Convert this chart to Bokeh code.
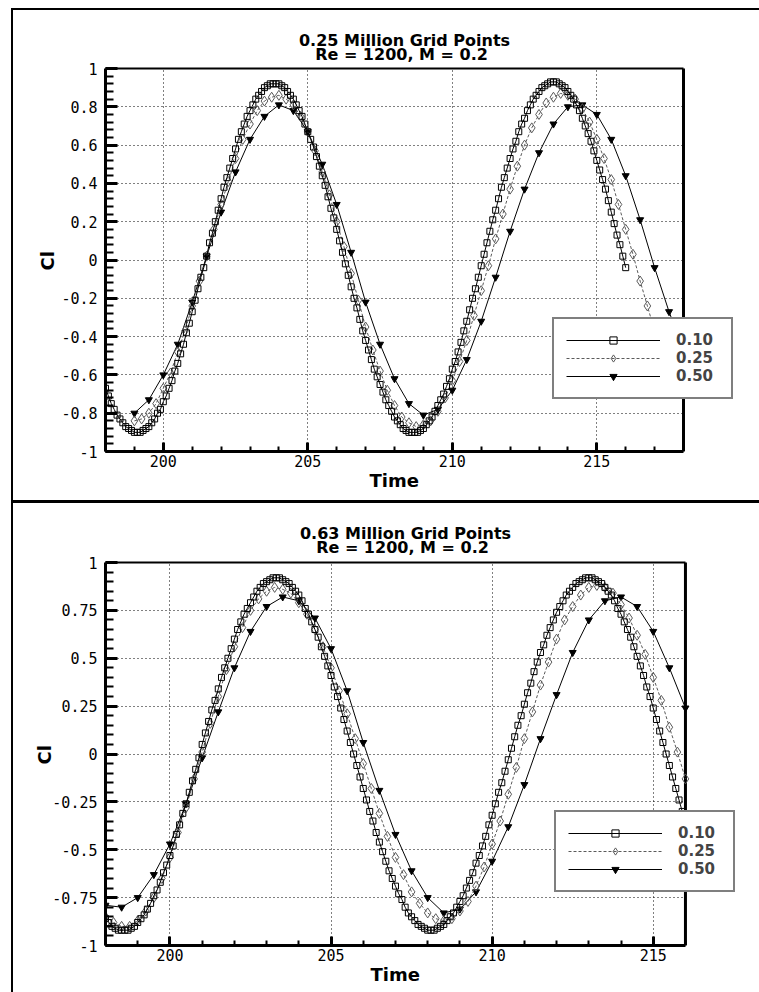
from bokeh.plotting import figure
from bokeh.models import (Range1d, FixedTicker, Label, Legend, LegendItem,
                          BoxAnnotation, Title)
from bokeh.layouts import column
from bokeh.embed import file_html
from bokeh.resources import INLINE

# ---------------- data ----------------
series_labels = ["0.10", "0.25", "0.50"]
titles_top = ["0.25 Million Grid Points", "Re = 1200, M = 0.2"]
titles_bottom = ["0.63 Million Grid Points", "Re = 1200, M = 0.2"]
x_title = "Time"
y_title = "Cl"

x_ticks = [200, 205, 210, 215]
y_ticks_top = [-1, -0.8, -0.6, -0.4, -0.2, 0, 0.2, 0.4, 0.6, 0.8, 1]
y_labels_top = ["-1", "-0.8", "-0.6", "-0.4", "-0.2", "0", "0.2", "0.4", "0.6", "0.8", "1"]
y_ticks_bottom = [-1, -0.75, -0.5, -0.25, 0, 0.25, 0.5, 0.75, 1]
y_labels_bottom = ["-1", "-0.75", "-0.5", "-0.25", "0", "0.25", "0.5", "0.75", "1"]

# sampling: first time and time step of each series (dt = 0.10, 0.25, 0.50)
top_start = [198.0, 199.0, 199.0]
bottom_start = [198.0, 198.0, 198.0]
steps = [0.1, 0.25, 0.5]

# 0.25 million grid points
top_010 = [
    -0.67, -0.71, -0.75, -0.78, -0.81, -0.83, -0.85, -0.87, -0.88, -0.89, -0.90, -0.90,
    -0.90, -0.89, -0.88, -0.87, -0.85, -0.83, -0.80, -0.78, -0.74, -0.71,
    -0.67, -0.63, -0.58, -0.54, -0.49, -0.44, -0.38, -0.33, -0.27, -0.21,
    -0.15, -0.09, -0.04, 0.02, 0.09, 0.14, 0.20, 0.26, 0.32, 0.38,
    0.43, 0.48, 0.53, 0.58, 0.63, 0.67, 0.71, 0.75, 0.78, 0.81,
    0.84, 0.86, 0.88, 0.90, 0.91, 0.92, 0.92,
    0.92, 0.92, 0.91, 0.90, 0.88, 0.86, 0.84, 0.81, 0.78, 0.75,
    0.71, 0.67, 0.63, 0.59, 0.54, 0.49, 0.44, 0.39, 0.33, 0.27,
    0.22, 0.16, 0.10, 0.04, -0.02, -0.08, -0.14, -0.20, -0.25, -0.31,
    -0.37, -0.42, -0.47, -0.52, -0.57, -0.61, -0.65, -0.69, -0.73, -0.76,
    -0.79, -0.82, -0.84, -0.86, -0.88, -0.89, -0.90, -0.90,
    -0.90, -0.90, -0.89, -0.88, -0.86, -0.84, -0.82, -0.79, -0.76, -0.73,
    -0.70, -0.66, -0.62, -0.57, -0.53, -0.48, -0.43, -0.37, -0.32, -0.26,
    -0.20, -0.15, -0.09, -0.03, 0.03, 0.09, 0.15, 0.21, 0.26, 0.32,
    0.38, 0.43, 0.48, 0.53, 0.58, 0.62, 0.67, 0.71, 0.74, 0.78,
    0.81, 0.84, 0.86, 0.88, 0.90, 0.91, 0.92, 0.93, 0.93,
    0.93, 0.92, 0.91, 0.90, 0.88, 0.86, 0.84, 0.81, 0.78, 0.74,
    0.70, 0.66, 0.62, 0.57, 0.52, 0.47, 0.42, 0.37, 0.31, 0.25,
    0.19, 0.13, 0.08, 0.02, -0.04,
]
top_025 = [
    -0.84, -0.83, -0.80, -0.75, -0.67, -0.59, -0.48, -0.37, -0.24, -0.11,
    0.02, 0.16, 0.29, 0.41, 0.53, 0.63, 0.71, 0.78, 0.83, 0.85,
    0.86, 0.84, 0.81, 0.75, 0.67, 0.57, 0.46, 0.34, 0.20, 0.07,
    -0.07, -0.21, -0.35, -0.47, -0.58, -0.68, -0.76, -0.82, -0.85, -0.87,
    -0.86, -0.84, -0.79, -0.72, -0.63, -0.53, -0.42, -0.29, -0.16, -0.03,
    0.11, 0.24, 0.37, 0.49, 0.60, 0.69, 0.76, 0.82, 0.85, 0.87,
    0.86, 0.84, 0.79, 0.72, 0.63, 0.53, 0.42, 0.29, 0.16, 0.03,
    -0.11, -0.24, -0.37, -0.49,
]
top_050 = [
    -0.80, -0.73, -0.60, -0.44, -0.22, 0.02, 0.25, 0.46, 0.63, 0.75,
    0.81, 0.78, 0.67, 0.50, 0.29, 0.04, -0.22, -0.44, -0.62, -0.75,
    -0.81, -0.78, -0.68, -0.52, -0.32, -0.09, 0.15, 0.37, 0.56, 0.71,
    0.80, 0.81, 0.76, 0.63, 0.44, 0.21, -0.04, -0.27, -0.47,
]

# 0.63 million grid points
bottom_010 = [
    -0.86, -0.88, -0.90, -0.91, -0.92, -0.92,
    -0.92, -0.92, -0.91, -0.90, -0.88, -0.86, -0.84, -0.81, -0.78, -0.74,
    -0.71, -0.67, -0.62, -0.58, -0.53, -0.48, -0.42, -0.37, -0.31, -0.26,
    -0.20, -0.14, -0.08, -0.02, 0.05, 0.11, 0.17, 0.23, 0.28, 0.34,
    0.40, 0.45, 0.50, 0.55, 0.60, 0.65, 0.69, 0.73, 0.76, 0.79,
    0.82, 0.85, 0.87, 0.89, 0.90, 0.91, 0.92, 0.92,
    0.92, 0.91, 0.90, 0.89, 0.87, 0.85, 0.83, 0.80, 0.76, 0.73,
    0.69, 0.65, 0.61, 0.56, 0.51, 0.46, 0.41, 0.35, 0.30, 0.24,
    0.18, 0.12, 0.06, 0.00, -0.06, -0.12, -0.18, -0.24, -0.30, -0.35,
    -0.41, -0.46, -0.51, -0.56, -0.61, -0.65, -0.69, -0.73, -0.76, -0.80,
    -0.83, -0.85, -0.87, -0.89, -0.90, -0.91, -0.92, -0.92,
    -0.92, -0.91, -0.90, -0.89, -0.87, -0.85, -0.83, -0.80, -0.77, -0.74,
    -0.70, -0.66, -0.62, -0.57, -0.53, -0.48, -0.43, -0.37, -0.32, -0.26,
    -0.20, -0.15, -0.09, -0.03, 0.03, 0.09, 0.15, 0.20, 0.26, 0.32,
    0.37, 0.43, 0.48, 0.53, 0.57, 0.62, 0.66, 0.70, 0.74, 0.77,
    0.80, 0.83, 0.85, 0.87, 0.89, 0.90, 0.91, 0.92, 0.92,
    0.92, 0.91, 0.90, 0.89, 0.87, 0.85, 0.83, 0.80, 0.76, 0.73,
    0.69, 0.65, 0.61, 0.56, 0.51, 0.46, 0.41, 0.35, 0.30, 0.24,
    0.18, 0.12, 0.06, 0.00, -0.06, -0.12, -0.18, -0.24, -0.30, -0.35,
]
bottom_025 = [
    -0.85, -0.88, -0.90,
    -0.90, -0.87, -0.82, -0.75, -0.65, -0.54, -0.41, -0.28, -0.13, 0.01,
    0.16, 0.30, 0.44, 0.56, 0.66, 0.75, 0.81, 0.85, 0.87,
    0.86, 0.84, 0.79, 0.73, 0.65, 0.56, 0.45, 0.33, 0.21, 0.08,
    -0.05, -0.18, -0.31, -0.43, -0.54, -0.63, -0.72, -0.78, -0.83, -0.86, -0.87,
    -0.86, -0.82, -0.77, -0.69, -0.59, -0.47, -0.35, -0.21, -0.07, 0.08,
    0.22, 0.36, 0.48, 0.60, 0.70, 0.77, 0.83, 0.87, 0.88,
    0.87, 0.84, 0.78, 0.71, 0.62, 0.52, 0.40, 0.28, 0.14, 0.01, -0.13,
]
bottom_050 = [
    -0.79, -0.80, -0.75, -0.63, -0.47, -0.26, -0.02, 0.22, 0.45, 0.64,
    0.77, 0.82, 0.80, 0.71, 0.55, 0.33, 0.06, -0.19, -0.42, -0.61,
    -0.75, -0.83, -0.81, -0.72, -0.56, -0.38, -0.16, 0.08, 0.31, 0.53,
    0.70, 0.80, 0.82, 0.77, 0.64, 0.45, 0.24,
]

# ---------------- styling ----------------
W = 759
TITLE_FONT = "DejaVu Sans"
TICK_FONT = "DejaVu Sans Mono"
marker_styles = [
    dict(marker="square", size=6, line_color="black", fill_alpha=0, line_width=1),
    dict(marker="diamond", size=10, line_color="#5a5a5a", fill_alpha=0, line_width=1),
    dict(marker="inverted_triangle", size=7, line_color="black", fill_color="black"),
]
line_styles = [
    dict(line_color="black", line_width=1),
    dict(line_color="#5a5a5a", line_width=1, line_dash="3 2"),
    dict(line_color="black", line_width=1),
]


def times(start, step, n):
    return [round(start + step * i, 3) for i in range(n)]


def frame_css(height, bottom_line):
    if bottom_line:
        imgs = ["linear-gradient(#000,#000)"] * 3
        sizes = [f"2px {height - 8}px", f"{W}px 2px", f"{W}px 3px"]
        pos = ["11px 8px", "11px 8px", f"11px {height - 3}px"]
    else:
        imgs = ["linear-gradient(#000,#000)"]
        sizes = [f"2px {height}px"]
        pos = ["11px 0px"]
    return {
        "background-image": ", ".join(imgs),
        "background-size": ", ".join(sizes),
        "background-position": ", ".join(pos),
        "background-repeat": "no-repeat",
    }


def make_panel(x_end, px_x, y_ticks, y_labels, y_minor, titles, title_pos, starts,
               series, height, b_top, b_bottom, legend_loc, ylab_standoff,
               xlab_offset, bottom_line):
    frame_w = W - 105
    frame_h = height - b_top - b_bottom
    view_x_end = 198 + frame_w / px_x
    view_y_end = -1 + frame_h / 191.5
    p = figure(width=W, height=height, output_backend="svg",
               toolbar_location=None, x_range=Range1d(198, view_x_end),
               y_range=Range1d(-1, view_y_end), min_border_left=105,
               min_border_right=0, min_border_top=b_top,
               min_border_bottom=b_bottom, border_fill_color=None,
               background_fill_color="white",
               styles=frame_css(height, bottom_line))
    p.outline_line_color = None

    xt = FixedTicker(ticks=x_ticks, minor_ticks=list(range(198, int(x_end) + 1)))
    yt = FixedTicker(ticks=y_ticks, minor_ticks=y_minor)
    p.xaxis.ticker = xt
    p.yaxis.ticker = yt
    p.xgrid.ticker = xt
    p.ygrid.ticker = yt
    p.xaxis.bounds = (198, x_end)
    p.yaxis.bounds = (-1, 1)
    p.yaxis.major_label_overrides = dict(zip(y_ticks, y_labels))

    for g in (p.xgrid, p.ygrid):
        g.grid_line_color = "black"
        g.grid_line_dash = "1 3"
        g.grid_line_width = 1

    # keep the grid inside the data frame (198..x_end, -1..1)
    p.add_layout(BoxAnnotation(left=x_end, fill_color="white", fill_alpha=1,
                               line_alpha=0, level="underlay"))
    p.add_layout(BoxAnnotation(bottom=1, fill_color="white", fill_alpha=1,
                               line_alpha=0, level="underlay"))

    p.axis.axis_line_width = 3
    p.axis.major_tick_line_width = 3
    p.axis.minor_tick_line_width = 2
    p.axis.major_tick_out = 0
    p.axis.minor_tick_out = 0
    p.yaxis.major_tick_in = 12
    p.yaxis.minor_tick_in = 8
    p.xaxis.major_tick_in = 9
    p.xaxis.minor_tick_in = 5
    p.axis.major_label_text_font = TICK_FONT
    p.axis.major_label_text_font_size = "15px"
    p.axis.major_label_text_color = "black"
    p.xaxis.major_label_standoff = 3
    p.yaxis.major_label_standoff = 8

    # axis titles
    p.add_layout(Title(text=x_title, align="left", offset=xlab_offset,
                       vertical_align="top", standoff=0, text_font=TITLE_FONT,
                       text_font_style="bold", text_font_size="18px",
                       text_color="black"), "below")
    p.add_layout(Title(text=y_title, align="left", offset=181,
                       vertical_align="top", standoff=ylab_standoff,
                       text_font=TITLE_FONT, text_font_style="bold",
                       text_font_size="18px", text_color="black"), "left")

    # top and right edges of the data frame
    p.line([198, x_end], [1, 1], line_color="black", line_width=2)
    p.line([x_end, x_end], [-1, 1], line_color="black", line_width=3)

    rends = {}
    for idx in (2, 1, 0):
        vals = series[idx]
        xs = times(starts[idx], steps[idx], len(vals))
        ln = p.line(xs, vals, **line_styles[idx])
        sc = p.scatter(xs, vals, **marker_styles[idx])
        rends[idx] = [ln, sc]
    items = [LegendItem(label=series_labels[i], renderers=rends[i]) for i in range(3)]

    legend = Legend(items=items, location=legend_loc, orientation="vertical",
                    border_line_color="black", border_line_width=2,
                    background_fill_color="white", background_fill_alpha=1,
                    padding=12, spacing=0, margin=0, glyph_width=94,
                    glyph_height=18, label_height=18, label_width=43,
                    label_standoff=16, label_text_font=TITLE_FONT,
                    label_text_font_style="bold", label_text_font_size="15px")
    p.add_layout(legend)

    for text, (tx, ty) in zip(titles, title_pos):
        p.add_layout(Label(x=tx, y=ty, x_units="screen", y_units="screen",
                           text=text, text_font=TITLE_FONT, text_font_style="bold",
                           text_font_size="16px", text_align="center",
                           text_baseline="middle", text_color="black"))
    return p


minor_top = [round(-1 + 0.04 * i, 2) for i in range(51)]
minor_bottom = [round(-1 + 0.05 * i, 2) for i in range(41)]

p1 = make_panel(218, 28.9, y_ticks_top, y_labels_top, minor_top, titles_top,
                [(299, 411), (296, 397)], top_start,
                [top_010, top_025, top_050], height=503, b_top=20, b_bottom=52,
                legend_loc=(447, 52), ylab_standoff=-3, xlab_offset=264,
                bottom_line=True)
p2 = make_panel(216, 32.22, y_ticks_bottom, y_labels_bottom, minor_bottom,
                titles_bottom, [(300, 412), (297, 398)], bottom_start,
                [bottom_010, bottom_025, bottom_050], height=489, b_top=15,
                b_bottom=47, legend_loc=(449, 53), ylab_standoff=-14,
                xlab_offset=265, bottom_line=False)

layout = column(p1, p2, spacing=0)
open("out.html", "w").write(file_html(layout, INLINE))
